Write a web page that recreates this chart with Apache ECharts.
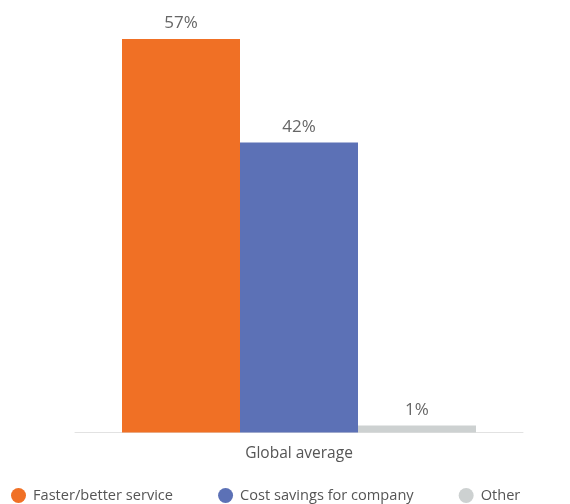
<!DOCTYPE html>
<html>
<head>
<meta charset="utf-8">
<script src="https://cdn.jsdelivr.net/npm/echarts@6/dist/echarts.min.js"></script>
<style>
  html, body { margin: 0; padding: 0; background: #fff; }
  #chart { width: 570px; height: 504px; }
</style>
</head>
<body>
<div id="chart"></div>
<script>
// 数据
const categories = ['Global average'];
const seriesNames = ['Faster/better service', 'Cost savings for company', 'Other'];
const seriesValues = [[57], [42], [1]];
const seriesColors = ['#f07025', '#5c71b6', '#cdd1d1'];

const chart = echarts.init(document.getElementById('chart'));

const series = seriesNames.map((name, i) => ({
    name: name,
    type: 'bar',
    data: seriesValues[i],
    barWidth: 118,
    barGap: '0%',
    itemStyle: { color: seriesColors[i] },
    label: {
        show: true,
        position: 'top',
        distance: 7,
        formatter: '{c}%',
        color: '#666',
        fontSize: 17,
        fontFamily: 'Open Sans'
    }
}));

chart.setOption({
    animation: false,
    grid: { left: 75, right: 47, top: 39, bottom: 71.5, containLabel: false },
    legend: {
        top: 488,
        left: 11,
        padding: 0,
        itemGap: 45,
        itemWidth: 15,
        itemHeight: 15,
        icon: 'circle',
        textStyle: { color: '#555', fontSize: 14.6, fontFamily: 'Open Sans', padding: [0, 0, 0, 2] },
        data: seriesNames
    },
    xAxis: {
        type: 'category',
        data: categories,
        axisLine: { lineStyle: { color: '#e2e2e2', width: 1 } },
        axisTick: { show: false },
        axisLabel: { color: '#555', fontSize: 15.5, fontFamily: 'Open Sans', margin: 13 }
    },
    yAxis: {
        type: 'value',
        min: 0,
        max: 57,
        show: false
    },
    series: series
});
</script>
</body>
</html>
